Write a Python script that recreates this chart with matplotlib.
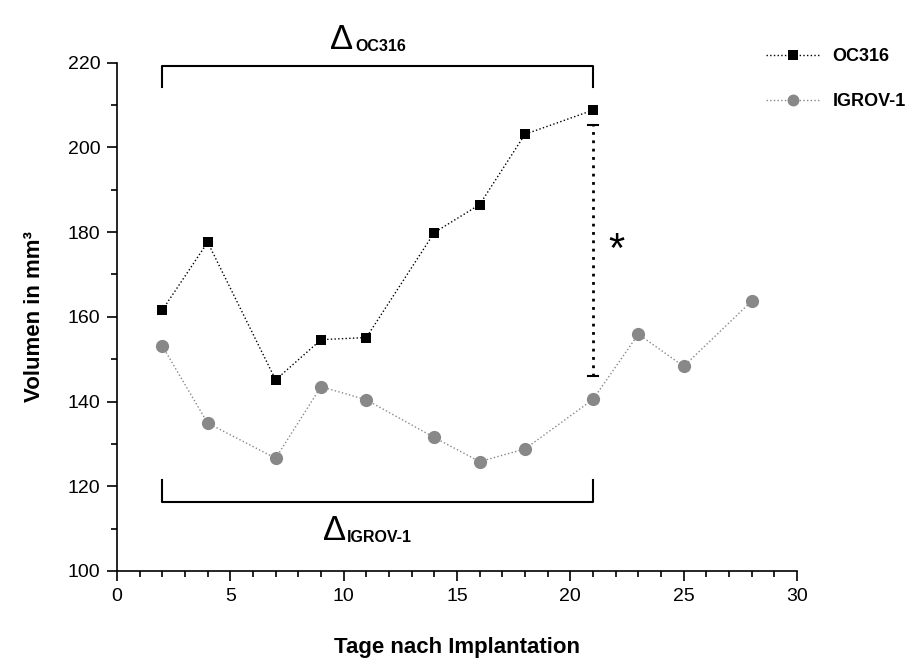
import numpy as np
import matplotlib
matplotlib.use('Agg')
import matplotlib.pyplot as plt
from matplotlib.ticker import MultipleLocator

plt.rcParams['font.family'] = ['Liberation Sans', 'DejaVu Sans']

# data
days_oc316 = [2, 4, 7, 9, 11, 14, 16, 18, 21]
vol_oc316 = [161.6, 177.6, 145.1, 154.6, 155.1, 179.9, 186.5, 203.1, 208.8]

days_igrov = [2, 4, 7, 9, 11, 14, 16, 18, 21, 23, 25, 28]
vol_igrov = [153.1, 134.9, 126.6, 143.5, 140.4, 131.5, 125.8, 128.8, 140.5, 155.9, 148.3, 163.7]

# significance bar at day 21
sig_day = 21
sig_low, sig_high = 146.0, 205.2

fig = plt.figure(figsize=(9.14, 6.6), dpi=100)
ax = fig.add_axes([0.128, 0.135, 0.744, 0.77])

ax.plot(days_oc316, vol_oc316, linestyle=':', color='black', linewidth=1,
        marker='s', markersize=7.5, markeredgewidth=0, markerfacecolor='black',
        label='OC316', clip_on=False)
ax.plot(days_igrov, vol_igrov, linestyle=':', color='#888888', linewidth=1,
        marker='o', markersize=9.5, markeredgewidth=0, markerfacecolor='#888888',
        label='IGROV-1', clip_on=False)

# dotted significance bar with caps
ax.plot([sig_day, sig_day], [sig_low, sig_high], linestyle=(0, (1, 2)), color='black', linewidth=2)
ax.plot([sig_day - 0.2, sig_day + 0.2], [sig_high, sig_high], color='black', linewidth=1.5)
ax.plot([sig_day - 0.2, sig_day + 0.2], [sig_low, sig_low], color='black', linewidth=1.5)
ax.text(22.05, 175.5, '*', fontsize=30, ha='center', va='center')

# brackets
x0, x1 = days_oc316[0], days_oc316[-1]
ax.plot([x0, x0, x1, x1], [214.3, 219.3, 219.3, 214.3], color='black', linewidth=1.5, clip_on=False)
ax.plot([x0, x0, x1, x1], [121.5, 116.3, 116.3, 121.5], color='black', linewidth=1.5, clip_on=False)

ax.text(9.4, 223.3, '\u0394', fontsize=25, ha='left', va='baseline', clip_on=False)
ax.text(10.5, 222.7, 'OC316', fontsize=11.5, fontweight='bold', ha='left', va='baseline', clip_on=False)
ax.text(9.07, 107.3, '\u0394', fontsize=25, ha='left', va='baseline', clip_on=False)
ax.text(10.13, 106.8, 'IGROV-1', fontsize=11.5, fontweight='bold', ha='left', va='baseline', clip_on=False)

ax.set_xlim(0, 30)
ax.set_ylim(100, 220)
ax.xaxis.set_major_locator(MultipleLocator(5))
ax.xaxis.set_minor_locator(MultipleLocator(1))
ax.yaxis.set_major_locator(MultipleLocator(20))
ax.yaxis.set_minor_locator(MultipleLocator(10))
ax.tick_params(which='major', direction='out', length=7, width=1.2, labelsize=14, pad=5)
ax.tick_params(which='minor', direction='out', length=4, width=1.2)

ax.spines['top'].set_visible(False)
ax.spines['right'].set_visible(False)
ax.spines['left'].set_linewidth(1.2)
ax.spines['bottom'].set_linewidth(1.2)

ax.set_xlabel('Tage nach Implantation', fontsize=16, fontweight='bold', labelpad=23)
ax.set_ylabel('Volumen in mm\u00b3', fontsize=16, fontweight='bold', labelpad=16)

leg = fig.legend(loc='upper left', bbox_to_anchor=(0.82, 0.952), frameon=False,
                 prop={'weight': 'bold', 'size': 13}, handlelength=3.0,
                 labelspacing=1.55, handletextpad=0.7, markerscale=0.9)

fig.savefig('out.png', dpi=100)
